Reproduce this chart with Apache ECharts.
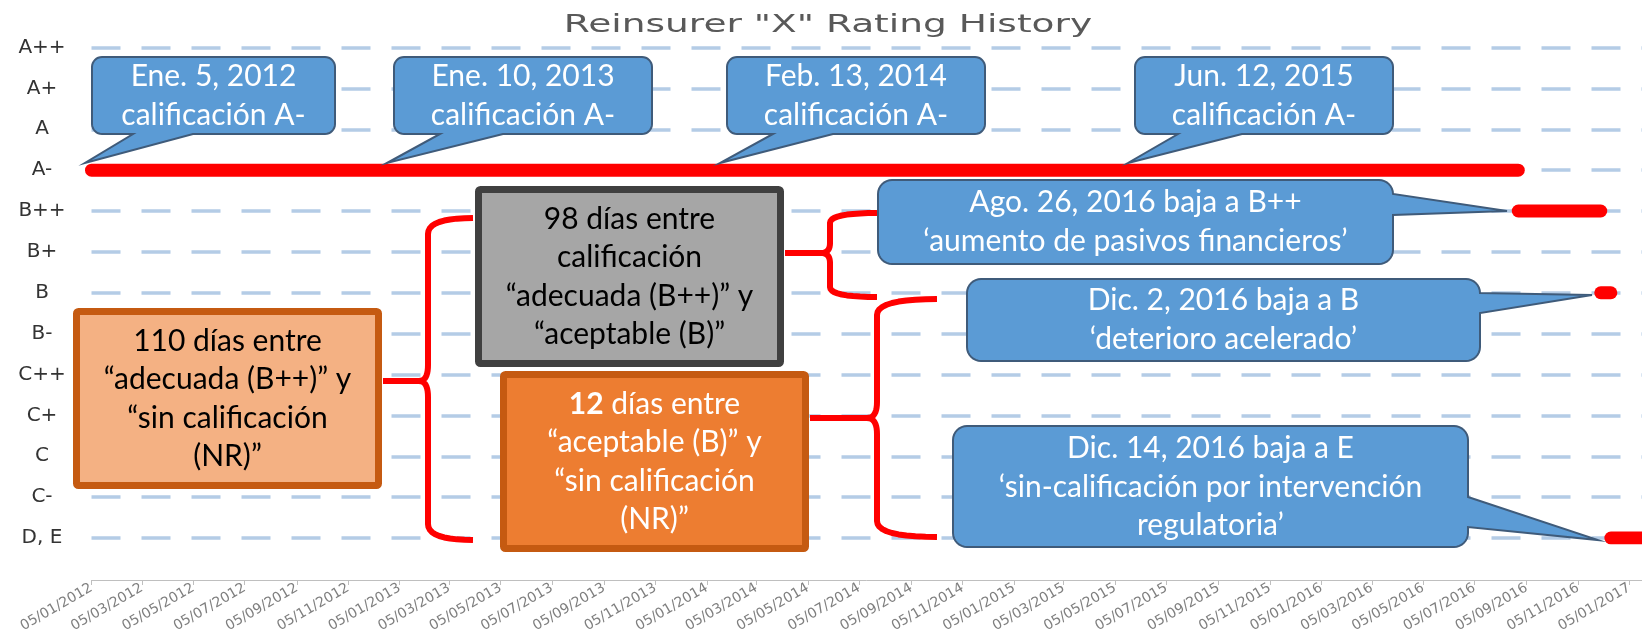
<!DOCTYPE html>
<html>
<head>
<meta charset="utf-8">
<script src="https://cdn.jsdelivr.net/npm/echarts@6/dist/echarts.min.js"></script>
<style>
html,body{margin:0;padding:0;background:#fff;}
#chart{width:1642px;height:637px;}
</style>
</head>
<body>
<div id="chart"></div>
<script>
// ---------- DATA ----------
const ratings = ['A++','A+','A','A-','B++','B+','B','B-','C++','C+','C','C-','D, E'];
const tickDates = ['2012-01-05','2012-03-05','2012-05-05','2012-07-05','2012-09-05','2012-11-05',
  '2013-01-05','2013-03-05','2013-05-05','2013-07-05','2013-09-05','2013-11-05',
  '2014-01-05','2014-03-05','2014-05-05','2014-07-05','2014-09-05','2014-11-05',
  '2015-01-05','2015-03-05','2015-05-05','2015-07-05','2015-09-05','2015-11-05',
  '2016-01-05','2016-03-05','2016-05-05','2016-07-05','2016-09-05','2016-11-05',
  '2017-01-05'];
const segStart  = ['2012-01-05','2016-08-26','2016-12-02','2016-12-14'];
const segEnd    = ['2016-08-26','2016-12-02','2016-12-14','2017-01-20'];
const segRating = ['A-','B++','B','D, E'];
const axisMinDate = '2012-01-05';
const axisMaxDate = '2017-01-20';
const titleText = 'Reinsurer "X" Rating History';
const calloutTexts = [
  'Ene. 5, 2012\ncalificación A-',
  'Ene. 10, 2013\ncalificación A-',
  'Feb. 13, 2014\ncalificación A-',
  'Jun. 12, 2015\ncalificación A-',
  'Ago. 26, 2016 baja a B++\n‘aumento de pasivos financieros’',
  'Dic. 2, 2016 baja a B\n‘deterioro acelerado’',
  'Dic. 14, 2016 baja a E\n‘sin-calificación por intervención\nregulatoria’'
];
const boxTexts = {
  nr110: '110 días entre\n“adecuada (B++)” y\n“sin calificación\n(NR)”',
  d98: '98 días entre\ncalificación\n“adecuada (B++)” y\n“aceptable (B)”',
  d12: '{b|12} días entre\n“aceptable (B)” y\n“sin calificación\n(NR)”'
};

// ---------- HELPERS ----------
function ts(s){ const p = s.split('-'); return Date.UTC(+p[0], +p[1]-1, +p[2]); }
function fmt(v){ const d = new Date(v); const dd = String(d.getUTCDate()).padStart(2,'0');
  const mm = String(d.getUTCMonth()+1).padStart(2,'0'); return dd + '/' + mm + '/' + d.getUTCFullYear(); }
function arc(cx,cy,r,a0,a1){ const pts=[]; const n=8;
  for(let i=0;i<=n;i++){ const a=(a0+(a1-a0)*i/n)*Math.PI/180; pts.push([cx+r*Math.cos(a), cy+r*Math.sin(a)]); }
  return pts; }
function calloutPts(b, r, side, b1, b2, tip){
  const [x0,y0,x1,y1] = b; let pts = [];
  pts = pts.concat(arc(x1-r,y0+r,r,-90,0));
  if(side==='right'){ pts.push([x1,b1],[tip[0],tip[1]],[x1,b2]); }
  pts = pts.concat(arc(x1-r,y1-r,r,0,90));
  if(side==='bottom'){ pts.push([b2,y1],[tip[0],tip[1]],[b1,y1]); }
  pts = pts.concat(arc(x0+r,y1-r,r,90,180));
  pts = pts.concat(arc(x0+r,y0+r,r,180,270));
  return pts; }
function quad(p0,c,p1){ const pts=[]; const n=10;
  for(let i=0;i<=n;i++){ const t=i/n;
    pts.push([(1-t)*(1-t)*p0[0]+2*(1-t)*t*c[0]+t*t*p1[0], (1-t)*(1-t)*p0[1]+2*(1-t)*t*c[1]+t*t*p1[1]]); }
  return pts; }
function bracePts(xr,y1,xv,xc,ym,y2,r){
  let pts = [];
  pts = pts.concat(quad([xr,y1],[xv,y1],[xv,y1+r]));
  pts = pts.concat(quad([xv,ym-r],[xv,ym],[xc,ym]));
  pts = pts.concat(quad([xc,ym],[xv,ym],[xv,ym+r]));
  pts = pts.concat(quad([xv,y2-r],[xv,y2],[xr,y2]));
  return pts; }

// ---------- GRAPHICS (annotations) ----------
const FONT = 'Lato';
const FS = 30;
const LH = 38.5;
const elements = [];
function addText(x,y,text,fill,extra){
  elements.push(Object.assign({ type:'text', x:x, y:y, z:12, silent:true,
    style:{ text:text, fill:fill, fontSize:FS, fontFamily:FONT, lineHeight:LH,
      align:'center', verticalAlign:'middle', textAlign:'center', textVerticalAlign:'middle' } }, extra||{}));
}
// braces
const RED = '#ff0000';
function addBrace(xs,xr,y1,xv,xc,ym,y2,r){
  elements.push({ type:'polyline', z:9, silent:true, shape:{ points: bracePts(xr,y1,xv,xc,ym,y2,r) },
    style:{ stroke:RED, lineWidth:6, fill:null, lineJoin:'round' } });
  elements.push({ type:'polyline', z:9, silent:true, shape:{ points: [[xs,ym],[xc+2,ym]] },
    style:{ stroke:RED, lineWidth:6, fill:null } });
}
addBrace(383, 473, 218, 428, 419, 381, 540, 16);
addBrace(785, 877, 213, 830, 821, 253, 297, 10);
addBrace(810, 937, 299, 877, 867, 418, 537, 16);

// boxes
elements.push({ type:'rect', z:10, silent:true, shape:{x:76.5,y:311.5,width:302,height:174,r:2},
  style:{ fill:'#f4b183', stroke:'#c55a11', lineWidth:7 } });
elements.push({ type:'rect', z:10, silent:true, shape:{x:478.5,y:189.5,width:302,height:174,r:2},
  style:{ fill:'#a6a6a6', stroke:'#404040', lineWidth:7 } });
elements.push({ type:'rect', z:10, silent:true, shape:{x:503.5,y:374.5,width:302,height:174,r:2},
  style:{ fill:'#ed7d31', stroke:'#c55a11', lineWidth:7 } });
addText(227.5, 399, boxTexts.nr110, '#000000');
addText(629.5, 277, boxTexts.d98, '#000000');
elements.push({ type:'text', x:654.5, y:462, z:12, silent:true,
  style:{ text:boxTexts.d12, fill:'#ffffff', fontSize:FS, fontFamily:FONT, lineHeight:LH,
    align:'center', verticalAlign:'middle', textAlign:'center', textVerticalAlign:'middle',
    rich:{ b:{ fontWeight:'bold', fontSize:FS, fontFamily:FONT, fill:'#ffffff', lineHeight:LH } } } });

// callouts
const CB_FILL = '#5b9bd5', CB_STROKE = '#3f5b7a';
const callouts = [
  { box:[92,57,335,134], r:10, side:'bottom', b1:133, b2:193, tip:[85,163], c:[213.5,96] },
  { box:[394,57,652,134], r:10, side:'bottom', b1:440, b2:503, tip:[387,163], c:[523,96] },
  { box:[727,57,985,134], r:10, side:'bottom', b1:773, b2:833, tip:[720,163], c:[856,96] },
  { box:[1135,57,1393,134], r:10, side:'bottom', b1:1178, b2:1242, tip:[1128,163], c:[1264,96] },
  { box:[878,180,1393,264], r:14, side:'right', b1:194, b2:215, tip:[1507,211], c:[1135.5,222] },
  { box:[967,279,1480,361], r:14, side:'right', b1:293, b2:313, tip:[1592,295], c:[1223.5,320] },
  { box:[953,426,1468,547], r:14, side:'right', b1:497, b2:527, tip:[1598,540], c:[1210.5,487] }
];
callouts.forEach((c,i)=>{
  elements.push({ type:'polygon', z:11, silent:true, shape:{ points: calloutPts(c.box,c.r,c.side,c.b1,c.b2,c.tip) },
    style:{ fill:CB_FILL, stroke:CB_STROKE, lineWidth:2, lineJoin:'miter' } });
  addText(c.c[0], c.c[1], calloutTexts[i], '#ffffff');
});

// title (stretched like the original)
elements.push({ type:'text', x:828, y:25, scaleX:1.5, z:12, silent:true,
  style:{ text:titleText, fill:'#595959', fontSize:25, fontFamily:'DejaVu Sans',
    align:'center', verticalAlign:'middle', textAlign:'center', textVerticalAlign:'middle' } });

// ---------- SERIES ----------
const series = segRating.map((r,i)=>({
  type:'line', symbol:'none', animation:false, silent:true, z:3,
  data:[[ts(segStart[i]), r],[ts(segEnd[i]), r]],
  lineStyle:{ color:RED, width:13, cap:'round' }
}));

const chart = echarts.init(document.getElementById('chart'), null, {renderer:'canvas'});
chart.setOption({
  animation:false,
  backgroundColor:'#ffffff',
  grid:{ left:91.5, right:0, top:47.5, bottom:99 },
  xAxis:{
    type:'value', min:ts(axisMinDate), max:ts(axisMaxDate), offset:42,
    axisLine:{ show:true, lineStyle:{ color:'#bfbfbf', width:1 } },
    axisTick:{ show:true, length:5, lineStyle:{ color:'#bfbfbf' }, customValues: tickDates.map(ts) },
    axisLabel:{ show:true, rotate:30, margin:7, fontSize:14, fontFamily:'DejaVu Sans', color:'#7f7f7f',
      customValues: tickDates.map(ts), formatter:(v)=>fmt(v) },
    splitLine:{ show:false }
  },
  yAxis:{
    type:'category', inverse:true, boundaryGap:false, data:ratings,
    axisLine:{ show:false }, axisTick:{ show:false },
    axisLabel:{ interval:0, align:'center', margin:49.5, fontSize:20, fontFamily:'DejaVu Sans', color:'#333333' },
    splitLine:{ show:true, interval:0, lineStyle:{ color:'#b4cce6', width:3.5, type:[29,21] } }
  },
  series: series,
  graphic:{ elements: elements }
});
</script>
</body>
</html>
